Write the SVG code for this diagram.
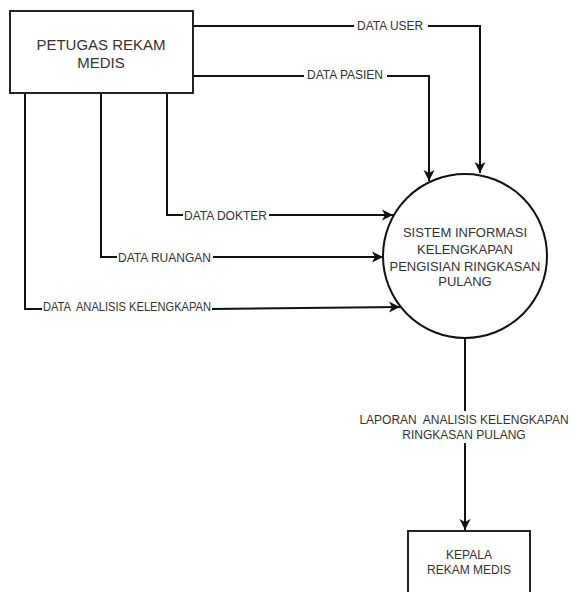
<svg xmlns="http://www.w3.org/2000/svg" width="572" height="592" viewBox="0 0 572 592">
  <style>
    .box { fill: #ffffff; stroke: #222; stroke-width: 2; }
    .flow { fill: none; stroke: #111; stroke-width: 2; }
    .lbl { font-family: "Liberation Sans", Arial, sans-serif; font-size: 12px; fill: #333; }
    .node { font-family: "Liberation Sans", Arial, sans-serif; fill: #333; text-anchor: middle; }
    .bg { fill: #ffffff; }
  </style>
  <defs>
    <marker id="arrow" markerUnits="userSpaceOnUse" markerWidth="14" markerHeight="12" viewBox="-12 -6 14 12" refX="0" refY="0" orient="auto">
      <path d="M0,0 L-11,-5.5 L-8,0 L-11,5.5 Z" fill="#111"/>
    </marker>
  </defs>
  <rect width="572" height="592" fill="#ffffff"/>

  <!-- data flows -->
  <g id="connectors">
    <path class="flow" d="M193,26 H480 V173" marker-end="url(#arrow)"/>
    <path class="flow" d="M193,76 H429 V181" marker-end="url(#arrow)"/>
    <path class="flow" d="M167,93 V215 H393" marker-end="url(#arrow)"/>
    <path class="flow" d="M101,93 V257 H383" marker-end="url(#arrow)"/>
    <path class="flow" d="M25,93 V309 L211,309 L400,307" marker-end="url(#arrow)"/>
    <path class="flow" d="M465,338 V530" marker-end="url(#arrow)"/>

    <rect class="bg" x="354" y="18" width="74" height="16"/>
    <text class="lbl" x="357" y="30">DATA USER</text>
    <rect class="bg" x="304" y="68" width="83" height="16"/>
    <text class="lbl" x="307" y="79">DATA PASIEN</text>
    <rect class="bg" x="183" y="207" width="86" height="16"/>
    <text class="lbl" x="184" y="220">DATA DOKTER</text>
    <rect class="bg" x="117" y="249" width="96" height="16"/>
    <text class="lbl" x="118" y="261.5">DATA RUANGAN</text>
    <rect class="bg" x="42" y="300" width="170" height="16"/>
    <text class="lbl" x="43" y="311" textLength="168" lengthAdjust="spacingAndGlyphs" xml:space="preserve">DATA  ANALISIS KELENGKAPAN</text>
    <rect class="bg" x="357" y="411" width="215" height="32"/>
    <text class="lbl" x="464" y="424" text-anchor="middle" xml:space="preserve">LAPORAN  ANALISIS KELENGKAPAN</text>
    <text class="lbl" x="464" y="439" text-anchor="middle">RINGKASAN PULANG</text>
  </g>

  <!-- external entity: source -->
  <g id="petugas-rekam-medis">
    <rect class="box" x="10" y="11" width="183" height="82"/>
    <text class="node" x="101" y="49.5" font-size="15">PETUGAS REKAM</text>
    <text class="node" x="101" y="68" font-size="15">MEDIS</text>
  </g>

  <!-- process -->
  <g id="sistem-informasi">
    <circle cx="465" cy="256" r="82" fill="#ffffff" stroke="#111" stroke-width="2"/>
    <text class="node" x="465" y="237" font-size="13">SISTEM INFORMASI</text>
    <text class="node" x="465" y="254" font-size="13">KELENGKAPAN</text>
    <text class="node" x="465" y="270.5" font-size="13">PENGISIAN RINGKASAN</text>
    <text class="node" x="465" y="286" font-size="13">PULANG</text>
  </g>

  <!-- external entity: recipient -->
  <g id="kepala-rekam-medis">
    <rect class="box" x="408" y="531" width="122" height="80"/>
    <text class="node" x="469" y="559" font-size="12">KEPALA</text>
    <text class="node" x="469" y="574" font-size="12">REKAM MEDIS</text>
  </g>
</svg>
